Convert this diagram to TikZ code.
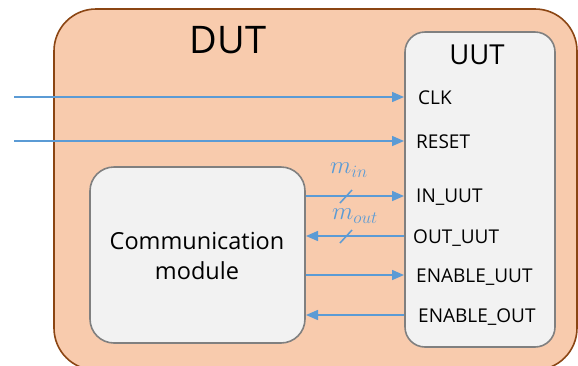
\documentclass[tikz,border=0pt]{standalone}
\usepackage{fontspec}
\setmainfont{Open Sans}
\usetikzlibrary{arrows.meta}
\definecolor{dutfill}{HTML}{F8CBAD}
\definecolor{dutline}{HTML}{8B4513}
\definecolor{boxfill}{HTML}{F2F2F2}
\definecolor{boxline}{HTML}{808080}
\definecolor{sig}{HTML}{5B9BD5}
\tikzset{
  block/.style={draw=boxline, line width=1.6pt, fill=boxfill, rounded corners=20pt},
  port/.style={anchor=west, inner sep=0pt, font=\fontsize{19}{21}\selectfont},
  wire/.style={draw=sig, line width=1.5pt, -{Triangle[length=12pt,width=10pt]}},
  bus/.style={draw=sig, line width=1.5pt},
  buslabel/.style={text=sig, inner sep=0pt, font=\fontsize{24.5}{26}\selectfont},
}
\begin{document}
\begin{tikzpicture}[x=1pt,y=-1pt]
\useasboundingbox (0,0) rectangle (578,365);
\begin{scope}
\clip (0,0) rectangle (578,365);
% outer DUT box
\draw[draw=dutline, line width=1.6pt, fill=dutfill, rounded corners=42pt] (54,9) rectangle (577,370);
\end{scope}
\node[font=\fontsize{38}{40}\selectfont, inner sep=0pt] (dut) at (228,40) {DUT};

% unit under test
\draw[block] (405,32) rectangle (555,347);
\node[font=\fontsize{27.5}{30}\selectfont, inner sep=0pt] (uut) at (477,55) {UUT};

% communication module
\draw[block, rounded corners=24pt] (90,167) rectangle (305,343);
\node[align=center, font=\fontsize{23.5}{30}\selectfont] (comm) at (197,256) {Communication\\module};

% port labels
\node[port] (clk) at (418,98) {CLK};
\node[port] (rst) at (416,142) {RESET};
\node[port] (inu) at (416,197) {IN\_UUT};
\node[port] (outu) at (413,238) {OUT\_UUT};
\node[port] (enu) at (416,277) {ENABLE\_UUT};
\node[port] (eno) at (418,317) {ENABLE\_OUT};

% coordinates on the box edges
\coordinate (clkL) at (14,97);
\coordinate (rstL) at (14,141);
\coordinate (uin) at (404,97);
\coordinate (urst) at (404,141);
\coordinate (cIn) at (306,196);
\coordinate (uIn) at (404,196);
\coordinate (cOut) at (306,236);
\coordinate (uOut) at (404,236);
\coordinate (cEn) at (306,275);
\coordinate (uEn) at (404,275);
\coordinate (cEo) at (306,315);
\coordinate (uEo) at (404,315);

\draw[wire] (clkL) -- (uin);
\draw[wire] (rstL) -- (urst);
\draw[wire] (cIn) -- (uIn);
\draw[wire] (uOut) -- (cOut);
\draw[wire] (cEn) -- (uEn);
\draw[wire] (uEo) -- (cEo);

% bus width marks
\draw[bus] (340,203) -- (352,190);
\draw[bus] (340,243) -- (352,230);
\node[buslabel] (min) at (349,170) {$m_{in}$};
\node[buslabel] (mout) at (355,216) {$m_{out}$};
\end{tikzpicture}
\end{document}
